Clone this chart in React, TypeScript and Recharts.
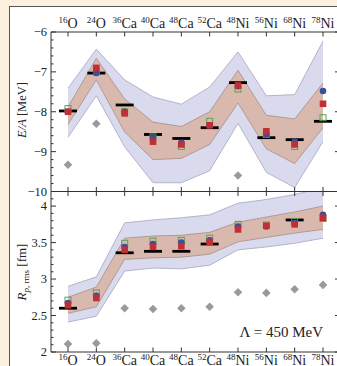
import React from "react";
import { ComposedChart, Area, Scatter, XAxis, YAxis } from "recharts";

// nuclei along the x axis
const massNumbers = ["16", "24", "36", "40", "48", "52", "48", "56", "68", "78"];
const elements = ["O", "O", "Ca", "Ca", "Ca", "Ca", "Ni", "Ni", "Ni", "Ni"];
const nucleusIndex = [0, 1, 2, 3, 4, 5, 6, 7, 8, 9];

// E/A [MeV]
const energyExp = [-7.98, -7.03, -7.83, -8.57, -8.67, -8.4, -7.27, -8.65, -8.7, -8.24];
const energyRed = [-8.0, -6.9, -8.04, -8.75, -8.82, -8.34, -7.34, -8.49, -8.82, -7.8];
const energyBlue = [-8.0, -7.03, -8.0, -8.65, -8.78, -8.34, -7.36, -8.57, -8.75, -7.48];
const energyGreen = [-7.92, -7.0, -8.0, -8.63, -8.87, -8.24, -7.43, -8.57, -8.87, -8.15];
const energyGray = [-9.33, -8.3, null, null, null, null, -9.6, null, null, null];
const energyOuterLow = [-8.64, -7.6, -8.88, -9.78, -9.78, -9.48, -8.29, -9.52, -9.9, -8.75];
const energyOuterHigh = [-7.41, -6.43, -7.2, -7.63, -7.81, -7.38, -6.5, -7.6, -7.57, -6.23];
const energyInnerLow = [-8.32, -7.2, -8.51, -9.2, -9.17, -8.82, -7.78, -8.93, -9.3, -8.4];
const energyInnerHigh = [-7.88, -6.66, -7.68, -8.26, -8.37, -8.0, -6.96, -8.09, -8.18, -7.28];

// R_p,rms [fm]
const radiusExp = [2.6, null, 3.36, 3.38, 3.38, 3.48, null, null, 3.81, null];
const radiusRed = [2.64, 2.74, 3.4, 3.44, 3.45, 3.51, 3.68, 3.73, 3.75, 3.84];
const radiusBlue = [2.67, 2.77, 3.44, 3.48, 3.5, 3.53, 3.72, 3.72, 3.77, 3.88];
const radiusGreen = [2.71, 2.81, 3.49, 3.52, 3.53, 3.56, 3.75, 3.74, 3.79, 3.83];
const radiusGray = [2.11, 2.12, 2.6, 2.59, 2.6, 2.62, 2.82, 2.81, 2.86, 2.92];
const radiusOuterLow = [2.41, 2.49, 3.11, 3.15, 3.14, 3.19, 3.4, 3.44, 3.49, 3.56];
const radiusOuterHigh = [2.9, 3.03, 3.77, 3.81, 3.84, 3.88, 4.04, 4.09, 4.16, 4.25];
const radiusInnerLow = [2.53, 2.62, 3.27, 3.29, 3.3, 3.34, 3.51, 3.57, 3.63, 3.68];
const radiusInnerHigh = [2.75, 2.89, 3.56, 3.59, 3.6, 3.64, 3.78, 3.85, 3.92, 4.0];

const energyMajor = [-10, -9, -8, -7, -6];
const radiusMajor = [2, 2.5, 3, 3.5, 4];
const energyTicks = Array.from({ length: 21 }, (_, k) => Math.round((-10 + k * 0.2) * 10) / 10);
const radiusTicks = Array.from({ length: 23 }, (_, k) => Math.round((2 + k * 0.1) * 10) / 10);

const serif = "'Liberation Serif', 'DejaVu Serif', serif";
const axisColor = "#333";
const textColor = "#222";

const energyData = nucleusIndex.map((i) => ({
  i,
  exp: energyExp[i],
  red: energyRed[i],
  blue: energyBlue[i],
  green: energyGreen[i],
  gray: energyGray[i],
  outer: [energyOuterLow[i], energyOuterHigh[i]],
  inner: [energyInnerLow[i], energyInnerHigh[i]],
}));

const radiusData = nucleusIndex.map((i) => ({
  i,
  exp: radiusExp[i],
  red: radiusRed[i],
  blue: radiusBlue[i],
  green: radiusGreen[i],
  gray: radiusGray[i],
  outer: [radiusOuterLow[i], radiusOuterHigh[i]],
  inner: [radiusInnerLow[i], radiusInnerHigh[i]],
}));

const ok = (v: any) => typeof v === "number" && !isNaN(v);

const ExpBar = (p: any) =>
  ok(p.cy) ? <rect x={p.cx - 9} y={p.cy - 1.4} width={18} height={2.8} fill="#000" /> : <g />;
const RedSquare = (p: any) =>
  ok(p.cy) ? <rect x={p.cx - 3.3} y={p.cy - 3.3} width={6.6} height={6.6} fill="#c22e36" /> : <g />;
const BlueDot = (p: any) =>
  ok(p.cy) ? <circle cx={p.cx} cy={p.cy} r={3.3} fill="#3a4d9f" /> : <g />;
const GreenSquare = (p: any) =>
  ok(p.cy) ? (
    <rect x={p.cx - 3} y={p.cy - 3} width={6} height={6} fill="none" stroke="#55a555" strokeWidth={1} />
  ) : (
    <g />
  );
const GrayDiamond = (p: any) =>
  ok(p.cy) ? (
    <polygon
      points={`${p.cx},${p.cy - 4.3} ${p.cx + 4.3},${p.cy} ${p.cx},${p.cy + 4.3} ${p.cx - 4.3},${p.cy}`}
      fill="#9a9a9a"
    />
  ) : (
    <g />
  );

function NucleusLabel({ x, y, value }: { x: number; y: number; value: number }) {
  return (
    <text x={x} y={y} textAnchor="middle" fontFamily={serif} fill={textColor}>
      <tspan fontSize={9} dy={-5}>
        {massNumbers[value]}
      </tspan>
      <tspan fontSize={14} dy={5}>
        {elements[value]}
      </tspan>
    </text>
  );
}

// x ticks: mark pointing into the plot, optional label outside
const xTick = (side: "top" | "bottom", withLabel: boolean) => (p: any) => {
  const dir = side === "top" ? 1 : -1;
  return (
    <g>
      <line x1={p.x} x2={p.x} y1={p.y} y2={p.y + dir * 4.5} stroke={axisColor} strokeWidth={1} />
      {withLabel && (
        <NucleusLabel x={p.x} y={side === "top" ? p.y - 4 : p.y + 12.5} value={p.payload.value} />
      )}
    </g>
  );
};

// y ticks: long mark at majors, short at minors, label only on the left
const yTick =
  (side: "left" | "right", majors: number[], fmt: (v: number) => string) => (p: any) => {
    const v = p.payload.value;
    const major = majors.some((m) => Math.abs(m - v) < 1e-6);
    const dir = side === "left" ? 1 : -1;
    const len = major ? 5 : 2.5;
    return (
      <g>
        <line x1={p.x} x2={p.x + dir * len} y1={p.y} y2={p.y} stroke={axisColor} strokeWidth={1} />
        {side === "left" && major && (
          <text x={p.x - 4} y={p.y + 4} textAnchor="end" fontFamily={serif} fontSize={12.5} fill={textColor}>
            {fmt(v)}
          </text>
        )}
      </g>
    );
  };

const fmtEnergy = (v: number) => (v < 0 ? "\u2212" + Math.abs(v) : String(v));
const fmtRadius = (v: number) => String(v);

function Panel({
  data,
  domain,
  ticks,
  majors,
  fmt,
  height,
  bottomMargin,
  topHeight,
  bottomHeight,
  topLabels,
  bottomLabels,
}: any) {
  return (
    <ComposedChart
      width={346}
      height={height}
      data={data}
      margin={{ top: 0, right: 5, bottom: bottomMargin, left: 0 }}
    >
      <XAxis
        xAxisId="t"
        orientation="top"
        type="number"
        dataKey="i"
        domain={[-0.6, 9.6]}
        allowDataOverflow
        ticks={nucleusIndex}
        interval={0}
        height={topHeight}
        tickSize={0}
        tickMargin={0}
        tickLine={false}
        axisLine={{ stroke: axisColor }}
        tick={xTick("top", topLabels)}
      />
      <XAxis
        xAxisId="b"
        orientation="bottom"
        type="number"
        dataKey="i"
        domain={[-0.6, 9.6]}
        allowDataOverflow
        ticks={nucleusIndex}
        interval={0}
        height={bottomHeight}
        tickSize={0}
        tickMargin={0}
        tickLine={false}
        axisLine={{ stroke: axisColor }}
        tick={xTick("bottom", bottomLabels)}
      />
      <YAxis
        yAxisId="l"
        orientation="left"
        type="number"
        domain={domain}
        allowDataOverflow
        ticks={ticks}
        interval={0}
        width={51}
        tickSize={0}
        tickMargin={0}
        tickLine={false}
        axisLine={{ stroke: axisColor }}
        tick={yTick("left", majors, fmt)}
      />
      <YAxis
        yAxisId="r"
        orientation="right"
        type="number"
        domain={domain}
        allowDataOverflow
        ticks={ticks}
        interval={0}
        width={1}
        tickSize={0}
        tickMargin={0}
        tickLine={false}
        axisLine={{ stroke: axisColor }}
        tick={yTick("right", majors, fmt)}
      />
      <Area
        xAxisId="t"
        yAxisId="l"
        type="linear"
        dataKey="outer"
        fill="#d9daee"
        fillOpacity={1}
        stroke="#a4a5c0"
        strokeWidth={0.8}
        dot={false}
        activeDot={false}
        isAnimationActive={false}
      />
      <Area
        xAxisId="t"
        yAxisId="l"
        type="linear"
        dataKey="inner"
        fill="#d9b9ad"
        fillOpacity={1}
        stroke="#a58e8a"
        strokeWidth={0.8}
        dot={false}
        activeDot={false}
        isAnimationActive={false}
      />
      <Scatter xAxisId="t" yAxisId="l" data={data.filter((d: any) => d.gray != null)} dataKey="gray" shape={GrayDiamond} isAnimationActive={false} />
      <Scatter xAxisId="t" yAxisId="l" data={data.filter((d: any) => d.exp != null)} dataKey="exp" shape={ExpBar} isAnimationActive={false} />
      <Scatter xAxisId="t" yAxisId="l" data={data} dataKey="green" shape={GreenSquare} isAnimationActive={false} />
      <Scatter xAxisId="t" yAxisId="l" data={data} dataKey="blue" shape={BlueDot} isAnimationActive={false} />
      <Scatter xAxisId="t" yAxisId="l" data={data} dataKey="red" shape={RedSquare} isAnimationActive={false} />
    </ComposedChart>
  );
}

export default function App() {
  return (
    <div
      style={{
        position: "fixed",
        left: 0,
        top: 0,
        width: 337,
        height: 366,
        overflow: "hidden",
        background: "#fdf0dc",
      }}
    >
      <div
        style={{
          position: "absolute",
          left: 9,
          top: 6,
          width: 360,
          height: 400,
          background: "#fff",
          border: "1px solid #555",
        }}
      />
      <div style={{ position: "absolute", left: 0, top: 0 }}>
        <Panel
          data={energyData}
          domain={[-10, -6]}
          ticks={energyTicks}
          majors={energyMajor}
          fmt={fmtEnergy}
          height={203}
          bottomMargin={10}
          topHeight={32}
          bottomHeight={1.5}
          topLabels={true}
          bottomLabels={false}
        />
      </div>
      <div style={{ position: "absolute", left: 0, top: 180 }}>
        <Panel
          data={radiusData}
          domain={[2, 4.2]}
          ticks={radiusTicks}
          majors={radiusMajor}
          fmt={fmtRadius}
          height={186}
          bottomMargin={0}
          topHeight={11.5}
          bottomHeight={14}
          topLabels={false}
          bottomLabels={true}
        />
      </div>
      <svg width={337} height={366} style={{ position: "absolute", left: 0, top: 0, pointerEvents: "none" }}>
        <text
          transform="translate(26,110) rotate(-90)"
          textAnchor="middle"
          fontFamily={serif}
          fontSize={12.5}
          fill={textColor}
        >
          <tspan fontStyle="italic">E/A</tspan> [MeV]
        </text>
        <text
          transform="translate(26,272) rotate(-90)"
          textAnchor="middle"
          fontFamily={serif}
          fontSize={13}
          fill={textColor}
        >
          <tspan fontStyle="italic">R</tspan>
          <tspan fontSize={9} dy={3}>
            <tspan fontStyle="italic">p</tspan>, rms
          </tspan>
          <tspan dy={-3}> [fm]</tspan>
        </text>
        <text x={323} y={337} textAnchor="end" fontFamily={serif} fontSize={15} fill={textColor}>
          {"\u039B = 450 MeV"}
        </text>
      </svg>
    </div>
  );
}
